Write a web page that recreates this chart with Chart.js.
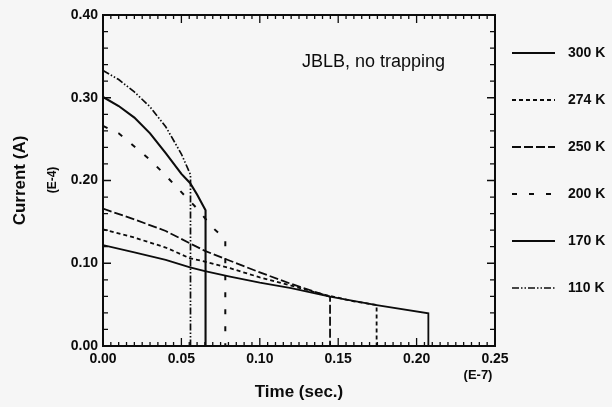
<!DOCTYPE html>
<html><head><meta charset="utf-8">
<script src="https://cdn.jsdelivr.net/npm/chart.js@4/dist/chart.umd.min.js"></script>
<style>html,body{margin:0;padding:0;background:#f6f6f6}#wrap{width:612px;height:407px}</style>
</head><body><div id="wrap"><canvas id="c" width="612" height="407"></canvas></div>
<script>
// Data (time in 1e-7 s, current in 1e-4 A)
const seriesLabels = ['300 K', '274 K', '250 K', '200 K', '170 K', '110 K'];

const t300 = [0, 0.02, 0.04, 0.0555, 0.065, 0.081, 0.10, 0.12, 0.1448, 0.1745, 0.2075, 0.2075];
const i300 = [0.122, 0.113, 0.104, 0.095, 0.0906, 0.0838, 0.0765, 0.070, 0.0596, 0.0495, 0.0395, 0];

const t274 = [0, 0.02, 0.04, 0.0555, 0.065, 0.081, 0.10, 0.12, 0.14, 0.16, 0.1745, 0.1745];
const i274 = [0.141, 0.131, 0.119, 0.106, 0.102, 0.094, 0.083, 0.073, 0.0625, 0.054, 0.0495, 0];

const t250 = [0, 0.02, 0.04, 0.0555, 0.065, 0.081, 0.10, 0.119, 0.14, 0.1448, 0.1448];
const i250 = [0.166, 0.153, 0.139, 0.124, 0.115, 0.103, 0.089, 0.0757, 0.0625, 0.0596, 0];

const t200 = [0, 0.01, 0.02, 0.03, 0.04, 0.05, 0.06, 0.07, 0.078, 0.078];
const i200 = [0.266, 0.257, 0.241, 0.225, 0.206, 0.186, 0.166, 0.143, 0.129, 0];

const t170 = [0, 0.01, 0.02, 0.03, 0.04, 0.05, 0.0555, 0.06, 0.0654, 0.0654];
const i170 = [0.301, 0.290, 0.276, 0.257, 0.233, 0.208, 0.197, 0.183, 0.164, 0];

const t110 = [0, 0.01, 0.02, 0.03, 0.04, 0.05, 0.0558, 0.0558];
const i110 = [0.333, 0.322, 0.307, 0.289, 0.265, 0.232, 0.207, 0];

const xTicks = [0, 0.05, 0.10, 0.15, 0.20, 0.25];
const yTicks = [0, 0.10, 0.20, 0.30, 0.40];

const pts = (t, v) => t.map((x, k) => ({x: x, y: v[k]}));
const INK = '#0c0c0c';
const FONT = '"Liberation Sans", Arial, sans-serif';

const styles = [
  {w: 1.8, dash: []},
  {w: 1.8, dash: [4, 3]},
  {w: 1.8, dash: [9, 3]},
  {w: 2.0, dash: [5, 12]},
  {w: 2.1, dash: []},
  {w: 1.7, dash: [7, 2, 1.5, 2, 1.5, 2]}
];
const allT = [t300, t274, t250, t200, t170, t110];
const allI = [i300, i274, i250, i200, i170, i110];

const datasets = seriesLabels.map((lab, k) => ({
  label: lab,
  data: pts(allT[k], allI[k]),
  borderColor: INK,
  borderWidth: styles[k].w,
  borderDash: styles[k].dash,
  pointRadius: 0,
  fill: false,
  tension: 0
}));

const decor = {
  id: 'decor',
  afterDraw(chart) {
    const {ctx, chartArea: a, scales: {x, y}} = chart;
    ctx.save();
    ctx.strokeStyle = INK;
    ctx.setLineDash([]);
    // frame
    ctx.lineWidth = 2;
    ctx.strokeRect(a.left, a.top, a.right - a.left, a.bottom - a.top);
    // inward ticks
    ctx.lineWidth = 1.3;
    for (let k = 0; k <= 50; k++) {
      const px = x.getPixelForValue(k * 0.005);
      const len = (k % 10 === 0) ? 8 : 4;
      ctx.beginPath();
      ctx.moveTo(px, a.bottom); ctx.lineTo(px, a.bottom - len);
      ctx.moveTo(px, a.top); ctx.lineTo(px, a.top + len);
      ctx.stroke();
    }
    for (let k = 0; k <= 20; k++) {
      const py = y.getPixelForValue(k * 0.02);
      const len = (k % 5 === 0) ? 8 : 5;
      ctx.beginPath();
      ctx.moveTo(a.left, py); ctx.lineTo(a.left + len, py);
      ctx.moveTo(a.right, py); ctx.lineTo(a.right - len, py);
      ctx.stroke();
    }
    // legend
    ctx.fillStyle = INK;
    ctx.font = 'bold 14px ' + FONT;
    ctx.textBaseline = 'middle';
    ctx.textAlign = 'left';
    chart.data.datasets.forEach((ds, k) => {
      const yy = 53 + k * 47;
      ctx.lineWidth = ds.borderWidth;
      ctx.setLineDash(ds.borderDash || []);
      ctx.beginPath();
      ctx.moveTo(512, yy); ctx.lineTo(555, yy);
      ctx.stroke();
      ctx.setLineDash([]);
      ctx.fillText(ds.label, 568, yy);
    });
    // annotations
    ctx.font = '18px ' + FONT;
    ctx.fillText('JBLB, no trapping', 302, 62);
    ctx.font = 'bold 13px ' + FONT;
    ctx.textAlign = 'center';
    ctx.fillText('(E-7)', 478, 375);
    ctx.save();
    ctx.translate(53, 180);
    ctx.rotate(-Math.PI / 2);
    ctx.font = 'bold 12px ' + FONT;
    ctx.fillText('(E-4)', 0, 0);
    ctx.restore();
    ctx.restore();
  }
};

new Chart(document.getElementById('c'), {
  type: 'line',
  data: {datasets: datasets},
  options: {
    responsive: false,
    animation: false,
    devicePixelRatio: 1,
    layout: {padding: {left: 0, top: 15, right: 117, bottom: 0}},
    plugins: {legend: {display: false}, tooltip: {enabled: false}},
    scales: {
      x: {
        type: 'linear', min: 0, max: 0.25,
        afterFit(s) { s.height = 61; },
        afterBuildTicks(s) { s.ticks = xTicks.map(v => ({value: v})); },
        grid: {display: false, drawTicks: false},
        border: {display: false},
        ticks: {padding: 5, color: INK, font: {family: FONT, size: 14, weight: 'bold'},
                callback: v => Number(v).toFixed(2), maxRotation: 0, autoSkip: false},
        title: {display: true, text: 'Time (sec.)', color: INK,
                font: {family: FONT, size: 17, weight: 'bold'}, padding: {top: 0, bottom: 4}}
      },
      y: {
        type: 'linear', min: 0, max: 0.4,
        afterFit(s) { s.width = 103; },
        afterBuildTicks(s) { s.ticks = yTicks.map(v => ({value: v})); },
        grid: {display: false, drawTicks: false},
        border: {display: false},
        ticks: {padding: 5, color: INK, font: {family: FONT, size: 14, weight: 'bold'},
                callback: v => Number(v).toFixed(2), autoSkip: false},
        title: {display: true, text: 'Current (A)', color: INK,
                font: {family: FONT, size: 17, weight: 'bold'}, padding: {top: 10, bottom: 0}}
      }
    }
  },
  plugins: [decor]
});
</script>
</body></html>
